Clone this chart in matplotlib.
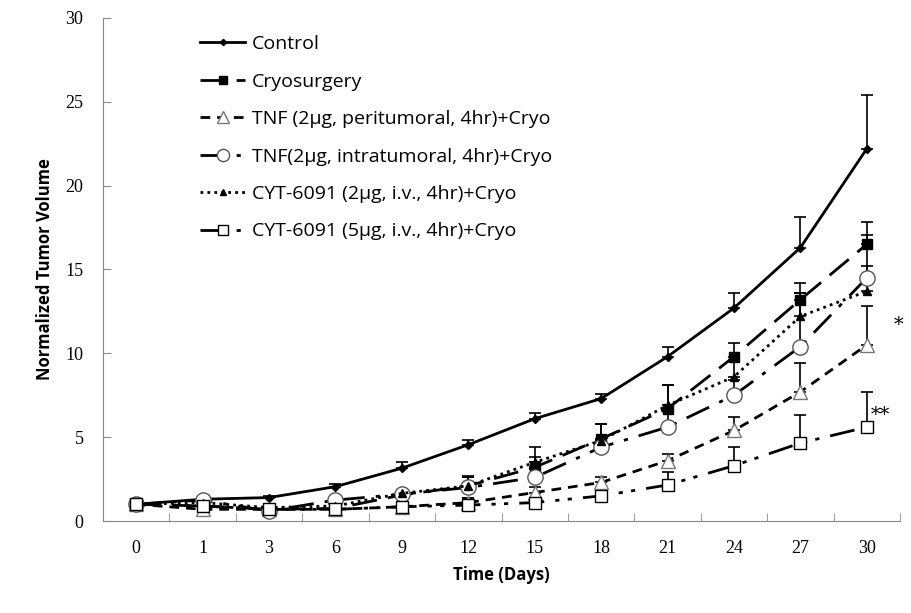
import numpy as np
import matplotlib
matplotlib.use('Agg')
import matplotlib.pyplot as plt

days = ['0', '1', '3', '6', '9', '12', '15', '18', '21', '24', '27', '30']

control = [1.0, 1.3, 1.4, 2.05, 3.15, 4.55, 6.1, 7.3, 9.8, 12.7, 16.3, 22.2]
control_err = [0.0, 0.05, 0.1, 0.15, 0.35, 0.3, 0.35, 0.25, 0.6, 0.9, 1.8, 3.2]
cryo = [1.0, 0.9, 0.7, 0.75, 1.55, 2.1, 3.2, 4.9, 6.7, 9.8, 13.2, 16.5]
cryo_err = [0.0, 0.1, 0.1, 0.1, 0.2, 0.5, 0.6, 0.9, 1.4, 0.8, 1.0, 1.3]
tnf_peri = [1.0, 0.7, 0.7, 0.7, 0.85, 1.1, 1.7, 2.3, 3.6, 5.4, 7.7, 10.5]
tnf_peri_err = [0.0, 0.1, 0.1, 0.1, 0.15, 0.3, 0.3, 0.3, 0.4, 0.8, 1.7, 2.3]
tnf_intra = [1.0, 1.25, 0.6, 1.25, 1.6, 2.0, 2.6, 4.4, 5.6, 7.5, 10.4, 14.5]
tnf_intra_err = [0.0, 0.1, 0.1, 0.1, 0.2, 0.6, 0.9, 1.4, 1.0, 0.9, 3.2, 2.55]
cyt2 = [1.0, 1.1, 0.8, 0.9, 1.65, 2.1, 3.5, 4.8, 6.9, 8.6, 12.2, 13.7]
cyt2_err = [0.0, 0.1, 0.1, 0.1, 0.2, 0.6, 0.9, 1.0, 1.2, 1.0, 1.4, 1.5]
cyt5 = [1.0, 0.9, 0.7, 0.7, 0.85, 0.95, 1.1, 1.5, 2.15, 3.3, 4.65, 5.6]
cyt5_err = [0.0, 0.05, 0.05, 0.05, 0.1, 0.45, 0.2, 0.2, 0.75, 1.1, 1.65, 2.1]

labels = ['Control', 'Cryosurgery', 'TNF (2\u03bcg, peritumoral, 4hr)+Cryo',
          'TNF(2\u03bcg, intratumoral, 4hr)+Cryo', 'CYT-6091 (2\u03bcg, i.v., 4hr)+Cryo',
          'CYT-6091 (5\u03bcg, i.v., 4hr)+Cryo']

x = np.arange(len(days))

fig = plt.figure(figsize=(9.11, 6.13), dpi=100)
ax = fig.add_axes([0.113, 0.150, 0.875, 0.821])

styles = [
    dict(ls='-', marker='D', ms=4, mfc='black', mec='black'),
    dict(ls=(0, (9, 4)), marker='s', ms=7, mfc='black', mec='black'),
    dict(ls=(0, (3.5, 2.5)), marker='^', ms=10, mfc='white', mec='#777777'),
    dict(ls=(0, (9, 4, 1.5, 4)), marker='o', ms=11, mfc='white', mec='#555555'),
    dict(ls=(0, (1, 1.5)), marker='^', ms=6, mfc='black', mec='black'),
    dict(ls=(0, (9, 4, 1.5, 3, 1.5, 4)), marker='s', ms=9, mfc='white', mec='black'),
]
series = [(control, control_err), (cryo, cryo_err), (tnf_peri, tnf_peri_err),
          (tnf_intra, tnf_intra_err), (cyt2, cyt2_err), (cyt5, cyt5_err)]

handles = []
for (vals, err), st, lab in zip(series, styles, labels):
    ax.errorbar(x, vals, yerr=[np.zeros(len(err)), err], fmt='none',
                ecolor='black', elinewidth=1.2, capsize=4, capthick=1.2, zorder=2)
    h, = ax.plot(x, vals, color='black', lw=2, label=lab, zorder=3, **st)
    handles.append(h)

ax.text(11.47, 11.7, '*', fontsize=14, ha='center', va='center', family='DejaVu Serif')
ax.text(11.2, 6.3, '**', fontsize=14, ha='center', va='center', family='DejaVu Serif')

ax.set_xlim(-0.5, 11.5)
ax.set_ylim(0, 30)
ax.set_xticks(x)
ax.set_xticklabels(days)
ax.set_xticks(np.arange(0.5, 11.6, 1), minor=True)
ax.tick_params(axis='x', which='major', length=0, pad=14, labelsize=13)
ax.tick_params(axis='x', which='minor', direction='in', length=6, color='#888888')
ax.set_yticks(range(0, 31, 5))
ax.tick_params(axis='y', direction='in', length=6, color='#888888', pad=14, labelsize=13)
for lab in ax.get_xticklabels() + ax.get_yticklabels():
    lab.set_family('Liberation Serif')

for s in ['top', 'right']:
    ax.spines[s].set_visible(False)
for s in ['left', 'bottom']:
    ax.spines[s].set_color('#888888')

ax.set_xlabel('Time (Days)', fontsize=12, fontweight='bold', family='Open Sans', labelpad=6)
ax.set_ylabel('Normalized Tumor Volume', fontsize=12, fontweight='bold', family='Open Sans', labelpad=8)

ax.legend(handles=handles, loc='upper left', bbox_to_anchor=(0.1, 1.0), frameon=False,
          labelspacing=1.0, handlelength=2.3, handletextpad=0.35, markerscale=0.8,
          prop={'family': 'Open Sans', 'size': 14})

fig.savefig('out.png', dpi=100)
